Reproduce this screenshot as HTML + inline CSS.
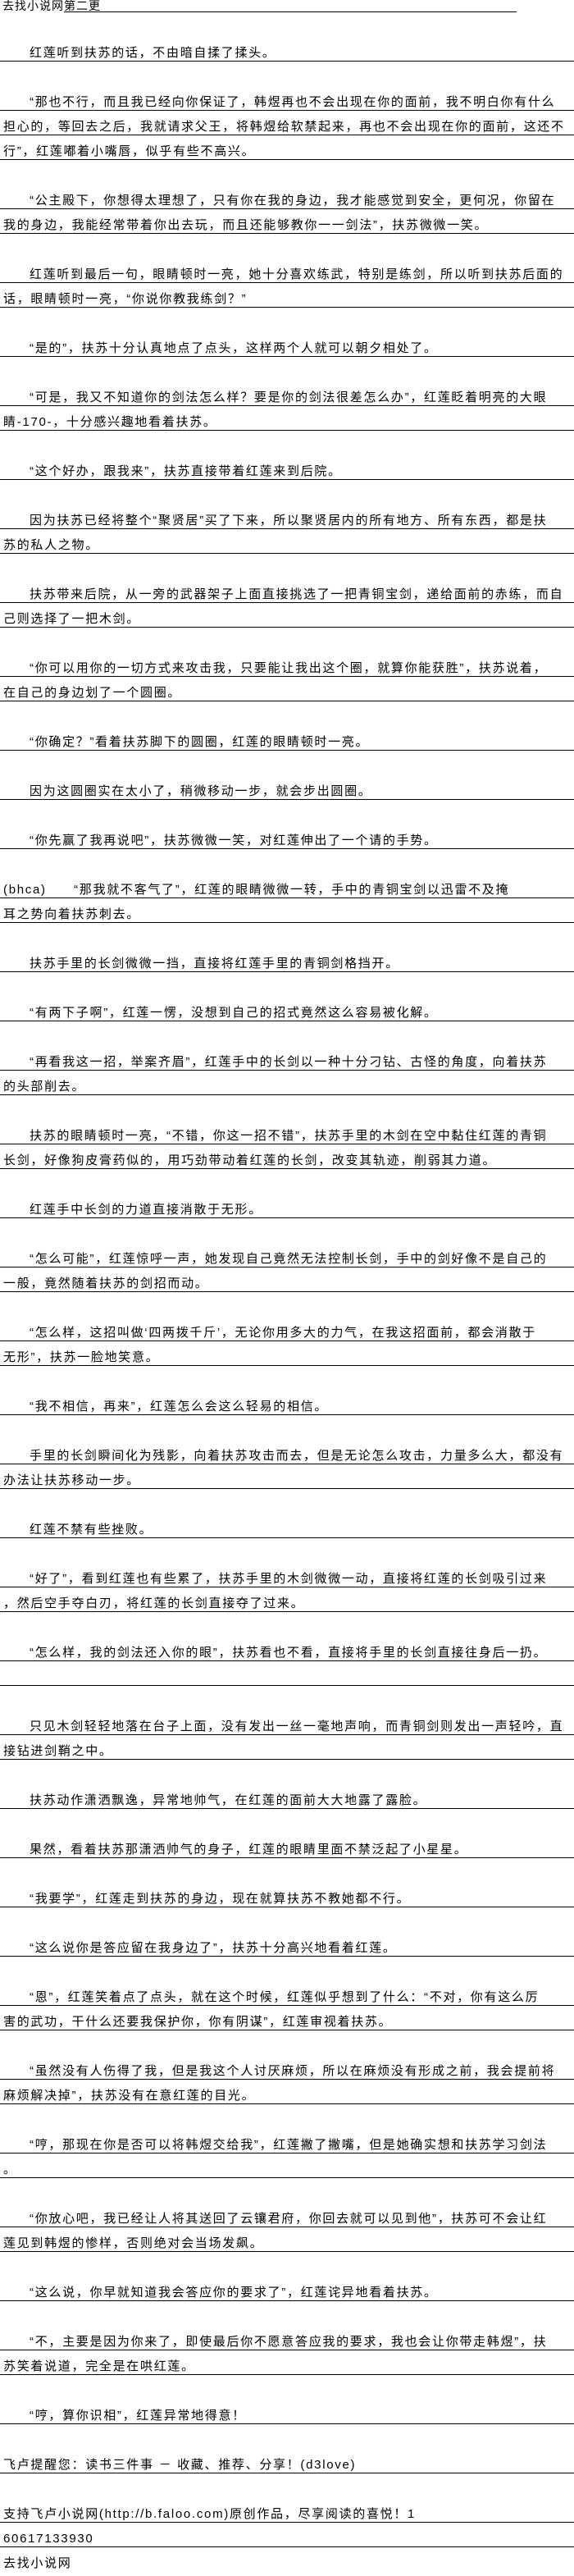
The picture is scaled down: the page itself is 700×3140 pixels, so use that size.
<!DOCTYPE html>
<html><head><meta charset="utf-8">
<style>
html,body{margin:0;padding:0;background:#fff;}
body{width:700px;height:3140px;overflow:hidden;position:relative;font-family:"Liberation Sans","Noto Sans CJK SC",sans-serif;color:#000;}
.wrap{position:absolute;left:0;top:-15px;width:700px;}
.r{height:29px;border-bottom:1px solid transparent;white-space:nowrap;font-size:15px;letter-spacing:1.7px;line-height:16px;box-sizing:content-box;padding:0;overflow:hidden;}
.r span.t{display:block;padding-top:12px;padding-left:4px;}
.u{border-bottom-color:#000;}
.i span.t{padding-left:36px;}
.hdr{position:absolute;left:0;top:0;width:700px;height:15px;font-size:14px;line-height:14px;white-space:nowrap;letter-spacing:1px;}
.hdr .a{position:absolute;left:3px;top:0;}
.hdr .b{position:absolute;left:78px;top:0;width:552px;height:14px;border-bottom:1px solid #000;}
</style></head><body>
<div class="hdr"><span class="a">去找小说网</span><span class="b">第二更</span></div>
<div class="wrap">
<div class="r"></div>
<div class="r"></div>
<div class="r u i"><span class="t">红莲听到扶苏的话，不由暗自揉了揉头。</span></div>
<div class="r"></div>
<div class="r u i"><span class="t">“那也不行，而且我已经向你保证了，韩煜再也不会出现在你的面前，我不明白你有什么</span></div>
<div class="r u"><span class="t">担心的，等回去之后，我就请求父王，将韩煜给软禁起来，再也不会出现在你的面前，这还不</span></div>
<div class="r u"><span class="t">行”，红莲嘟着小嘴唇，似乎有些不高兴。</span></div>
<div class="r"></div>
<div class="r u i"><span class="t">“公主殿下，你想得太理想了，只有你在我的身边，我才能感觉到安全，更何况，你留在</span></div>
<div class="r u"><span class="t">我的身边，我能经常带着你出去玩，而且还能够教你一一剑法”，扶苏微微一笑。</span></div>
<div class="r"></div>
<div class="r u i"><span class="t">红莲听到最后一句，眼睛顿时一亮，她十分喜欢练武，特别是练剑，所以听到扶苏后面的</span></div>
<div class="r u"><span class="t">话，眼睛顿时一亮，“你说你教我练剑？”</span></div>
<div class="r"></div>
<div class="r u i"><span class="t">“是的”，扶苏十分认真地点了点头，这样两个人就可以朝夕相处了。</span></div>
<div class="r"></div>
<div class="r u i"><span class="t">“可是，我又不知道你的剑法怎么样？要是你的剑法很差怎么办”，红莲眨着明亮的大眼</span></div>
<div class="r u"><span class="t">睛-170-，十分感兴趣地看着扶苏。</span></div>
<div class="r"></div>
<div class="r u i"><span class="t">“这个好办，跟我来”，扶苏直接带着红莲来到后院。</span></div>
<div class="r"></div>
<div class="r u i"><span class="t">因为扶苏已经将整个“聚贤居”买了下来，所以聚贤居内的所有地方、所有东西，都是扶</span></div>
<div class="r u"><span class="t">苏的私人之物。</span></div>
<div class="r"></div>
<div class="r u i"><span class="t">扶苏带来后院，从一旁的武器架子上面直接挑选了一把青铜宝剑，递给面前的赤练，而自</span></div>
<div class="r u"><span class="t">己则选择了一把木剑。</span></div>
<div class="r"></div>
<div class="r u i"><span class="t">“你可以用你的一切方式来攻击我，只要能让我出这个圈，就算你能获胜”，扶苏说着，</span></div>
<div class="r u"><span class="t">在自己的身边划了一个圆圈。</span></div>
<div class="r"></div>
<div class="r u i"><span class="t">“你确定？”看着扶苏脚下的圆圈，红莲的眼睛顿时一亮。</span></div>
<div class="r"></div>
<div class="r u i"><span class="t">因为这圆圈实在太小了，稍微移动一步，就会步出圆圈。</span></div>
<div class="r"></div>
<div class="r u i"><span class="t">“你先赢了我再说吧”，扶苏微微一笑，对红莲伸出了一个请的手势。</span></div>
<div class="r"></div>
<div class="r u"><span class="t">(bhca)　　“那我就不客气了”，红莲的眼睛微微一转，手中的青铜宝剑以迅雷不及掩</span></div>
<div class="r u"><span class="t">耳之势向着扶苏刺去。</span></div>
<div class="r"></div>
<div class="r u i"><span class="t">扶苏手里的长剑微微一挡，直接将红莲手里的青铜剑格挡开。</span></div>
<div class="r"></div>
<div class="r u i"><span class="t">“有两下子啊”，红莲一愣，没想到自己的招式竟然这么容易被化解。</span></div>
<div class="r"></div>
<div class="r u i"><span class="t">“再看我这一招，举案齐眉”，红莲手中的长剑以一种十分刁钻、古怪的角度，向着扶苏</span></div>
<div class="r u"><span class="t">的头部削去。</span></div>
<div class="r"></div>
<div class="r u i"><span class="t">扶苏的眼睛顿时一亮，“不错，你这一招不错”，扶苏手里的木剑在空中黏住红莲的青铜</span></div>
<div class="r u"><span class="t">长剑，好像狗皮膏药似的，用巧劲带动着红莲的长剑，改变其轨迹，削弱其力道。</span></div>
<div class="r"></div>
<div class="r u i"><span class="t">红莲手中长剑的力道直接消散于无形。</span></div>
<div class="r"></div>
<div class="r u i"><span class="t">“怎么可能”，红莲惊呼一声，她发现自己竟然无法控制长剑，手中的剑好像不是自己的</span></div>
<div class="r u"><span class="t">一般，竟然随着扶苏的剑招而动。</span></div>
<div class="r"></div>
<div class="r u i"><span class="t">“怎么样，这招叫做‘四两拨千斤’，无论你用多大的力气，在我这招面前，都会消散于</span></div>
<div class="r u"><span class="t">无形”，扶苏一脸地笑意。</span></div>
<div class="r"></div>
<div class="r u i"><span class="t">“我不相信，再来”，红莲怎么会这么轻易的相信。</span></div>
<div class="r"></div>
<div class="r u i"><span class="t">手里的长剑瞬间化为残影，向着扶苏攻击而去，但是无论怎么攻击，力量多么大，都没有</span></div>
<div class="r u"><span class="t">办法让扶苏移动一步。</span></div>
<div class="r"></div>
<div class="r u i"><span class="t">红莲不禁有些挫败。</span></div>
<div class="r"></div>
<div class="r u i"><span class="t">“好了”，看到红莲也有些累了，扶苏手里的木剑微微一动，直接将红莲的长剑吸引过来</span></div>
<div class="r u"><span class="t">，然后空手夺白刃，将红莲的长剑直接夺了过来。</span></div>
<div class="r"></div>
<div class="r u i"><span class="t">“怎么样，我的剑法还入你的眼”，扶苏看也不看，直接将手里的长剑直接往身后一扔。</span></div>
<div class="r u"></div>
<div class="r"></div>
<div class="r u i"><span class="t">只见木剑轻轻地落在台子上面，没有发出一丝一毫地声响，而青铜剑则发出一声轻吟，直</span></div>
<div class="r u"><span class="t">接钻进剑鞘之中。</span></div>
<div class="r"></div>
<div class="r u i"><span class="t">扶苏动作潇洒飘逸，异常地帅气，在红莲的面前大大地露了露脸。</span></div>
<div class="r"></div>
<div class="r u i"><span class="t">果然，看着扶苏那潇洒帅气的身子，红莲的眼睛里面不禁泛起了小星星。</span></div>
<div class="r"></div>
<div class="r u i"><span class="t">“我要学”，红莲走到扶苏的身边，现在就算扶苏不教她都不行。</span></div>
<div class="r"></div>
<div class="r u i"><span class="t">“这么说你是答应留在我身边了”，扶苏十分高兴地看着红莲。</span></div>
<div class="r"></div>
<div class="r u i"><span class="t">“恩”，红莲笑着点了点头，就在这个时候，红莲似乎想到了什么：“不对，你有这么厉</span></div>
<div class="r u"><span class="t">害的武功，干什么还要我保护你，你有阴谋”，红莲审视着扶苏。</span></div>
<div class="r"></div>
<div class="r u i"><span class="t">“虽然没有人伤得了我，但是我这个人讨厌麻烦，所以在麻烦没有形成之前，我会提前将</span></div>
<div class="r u"><span class="t">麻烦解决掉”，扶苏没有在意红莲的目光。</span></div>
<div class="r"></div>
<div class="r u i"><span class="t">“哼，那现在你是否可以将韩煜交给我”，红莲撇了撇嘴，但是她确实想和扶苏学习剑法</span></div>
<div class="r u"><span class="t">。</span></div>
<div class="r"></div>
<div class="r u i"><span class="t">“你放心吧，我已经让人将其送回了云镶君府，你回去就可以见到他”，扶苏可不会让红</span></div>
<div class="r u"><span class="t">莲见到韩煜的惨样，否则绝对会当场发飙。</span></div>
<div class="r"></div>
<div class="r u i"><span class="t">“这么说，你早就知道我会答应你的要求了”，红莲诧异地看着扶苏。</span></div>
<div class="r"></div>
<div class="r u i"><span class="t">“不，主要是因为你来了，即使最后你不愿意答应我的要求，我也会让你带走韩煜”，扶</span></div>
<div class="r u"><span class="t">苏笑着说道，完全是在哄红莲。</span></div>
<div class="r"></div>
<div class="r u i"><span class="t">“哼，算你识相”，红莲异常地得意！</span></div>
<div class="r"></div>
<div class="r u"><span class="t">飞卢提醒您：读书三件事 － 收藏、推荐、分享！(d3love)</span></div>
<div class="r"></div>
<div class="r u"><span class="t">支持飞卢小说网(http://b.faloo.com)原创作品，尽享阅读的喜悦！1</span></div>
<div class="r u"><span class="t">60617133930</span></div>
<div class="r"><span class="t">去找小说网</span></div>
</div>
</body></html>
